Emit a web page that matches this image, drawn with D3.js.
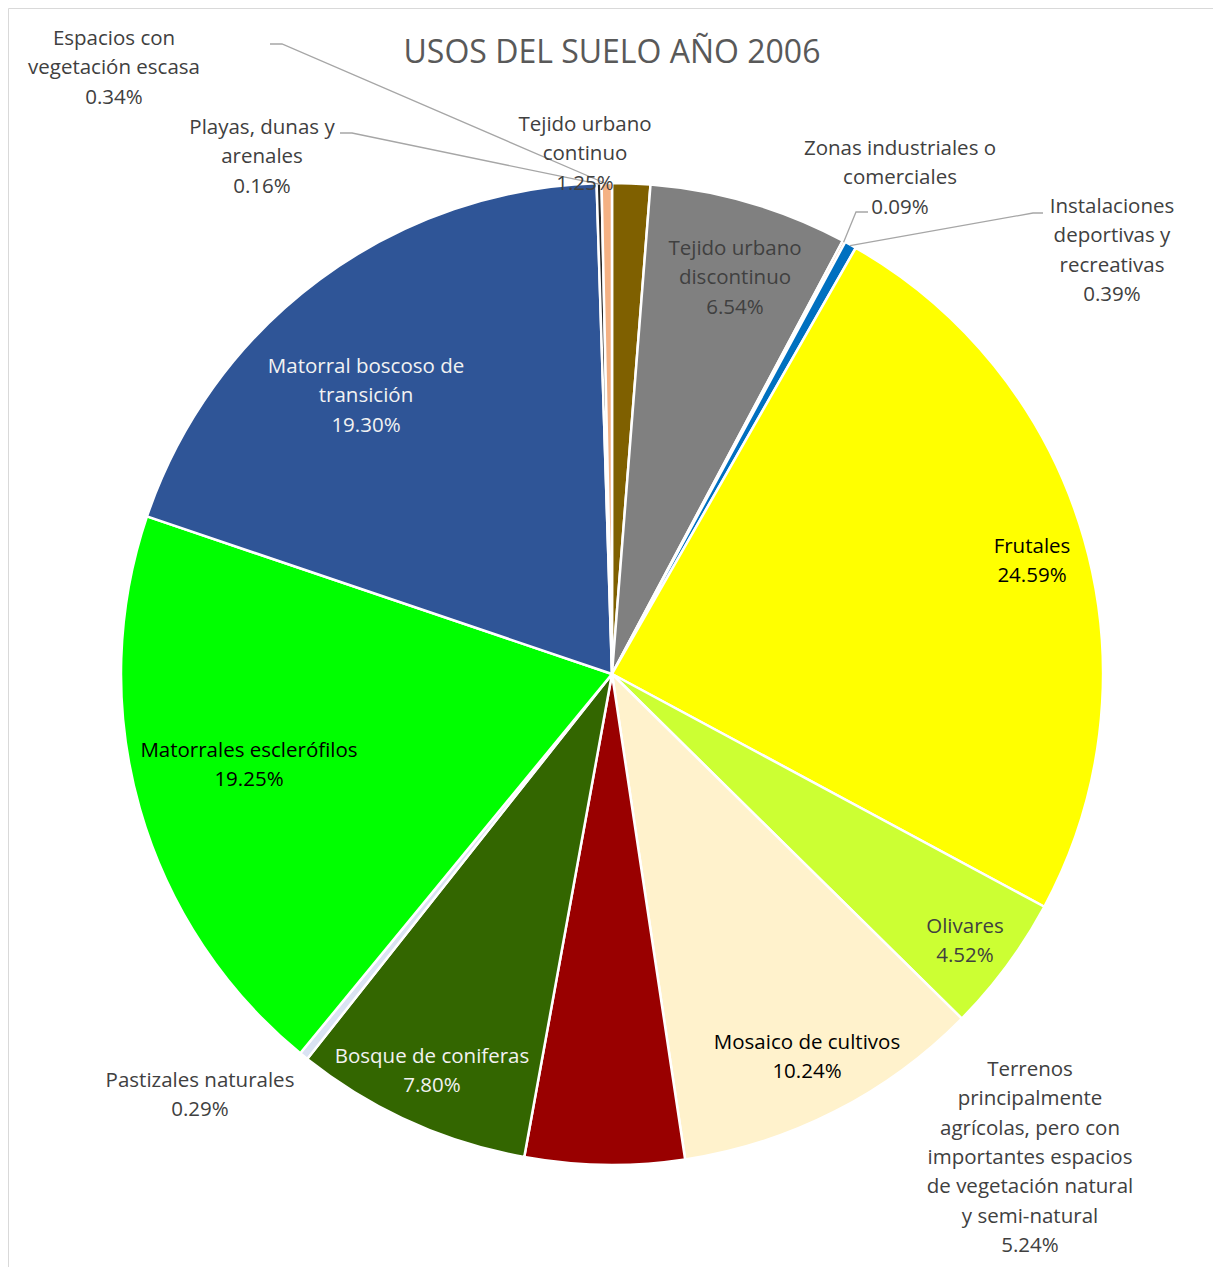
<!DOCTYPE html>
<html>
<head>
<meta charset="utf-8">
<script src="https://cdn.jsdelivr.net/npm/d3@7"></script>
<style>
  body { margin: 0; background: #fff; }
  svg text { font-family: 'Open Sans', Lato, sans-serif; }
</style>
</head>
<body>
<svg id="pie" width="1213" height="1267"></svg>
<script>
const categories = [
  'Tejido urbano continuo',
  'Tejido urbano discontinuo',
  'Zonas industriales o comerciales',
  'Instalaciones deportivas y recreativas',
  'Frutales',
  'Olivares',
  'Mosaico de cultivos',
  'Terrenos principalmente agrícolas, pero con importantes espacios de vegetación natural y semi-natural',
  'Bosque de coniferas',
  'Pastizales naturales',
  'Matorrales esclerófilos',
  'Matorral boscoso de transición',
  'Playas, dunas y arenales',
  'Espacios con vegetación escasa'
]
const values = [1.25, 6.54, 0.09, 0.39, 24.59, 4.52, 10.24, 5.24, 7.80, 0.29, 19.25, 19.30, 0.16, 0.34]
const colors = ['#7f6000', '#808080', '#c55a11', '#0070c0', '#ffff00', '#ccff33', '#fff2cc',
  '#990000', '#336600', '#dae3f3', '#00ff00', '#2f5597', '#262626', '#f4b183']

// label text lines (the percentage line is added from values)
const labelLines = [
  ['Tejido urbano', 'continuo'],
  ['Tejido urbano', 'discontinuo'],
  ['Zonas industriales o', 'comerciales'],
  ['Instalaciones', 'deportivas y', 'recreativas'],
  ['Frutales'],
  ['Olivares'],
  ['Mosaico de cultivos'],
  ['Terrenos', 'principalmente', 'agrícolas, pero con', 'importantes espacios', 'de vegetación natural', 'y semi-natural'],
  ['Bosque de coniferas'],
  ['Pastizales naturales'],
  ['Matorrales esclerófilos'],
  ['Matorral boscoso de', 'transición'],
  ['Playas, dunas y', 'arenales'],
  ['Espacios con', 'vegetación escasa']
]

// label placement: centre x, first baseline y, text colour
const labelLayout = [
  { x: 585, y: 131, fill: '#404040' },
  { x: 735, y: 255, fill: '#404040' },
  { x: 900, y: 155, fill: '#404040' },
  { x: 1112, y: 213, fill: '#404040' },
  { x: 1032, y: 553, fill: '#000000' },
  { x: 965, y: 933, fill: '#404040' },
  { x: 807, y: 1049, fill: '#000000' },
  { x: 1030, y: 1076, fill: '#404040' },
  { x: 432, y: 1063, fill: '#f2f2f2' },
  { x: 200, y: 1087, fill: '#404040' },
  { x: 249, y: 757, fill: '#000000' },
  { x: 366, y: 373, fill: '#f2f2f2' },
  { x: 262, y: 134, fill: '#404040' },
  { x: 114, y: 45, fill: '#404040' }
]

// leader lines for outside labels: [slice index, start points]
const leaders = [
  [13, [[270, 44], [282, 44]]],
  [12, [[340, 133], [352, 133]]],
  [2, [[868, 212], [856, 212]]],
  [3, [[1043, 213], [1033, 213]]]
]

const svg = d3.select('#pie')
const width = +svg.attr('width')
const height = +svg.attr('height')

// chart area border
svg.append('path')
  .attr('d', `M8.5,${height} V8.5 H${width}`)
  .attr('fill', 'none')
  .attr('stroke', '#d9d9d9')
  .attr('stroke-width', 1)

svg.append('text')
  .attr('x', 612)
  .attr('y', 63)
  .attr('text-anchor', 'middle')
  .attr('fill', '#595959')
  .style('font-size', '32px')
  .text('USOS DEL SUELO AÑO 2006')

const cx = 612
const cy = 674
const radius = 491

const data = categories.map((c, i) => ({ name: c, value: values[i], i }))

const pie = d3.pie().sort(null).value(d => d.value)
const arcs = pie(data)
const arc = d3.arc().innerRadius(0).outerRadius(radius)

const g = svg.append('g').attr('transform', `translate(${cx},${cy})`)

g.selectAll('path.slice')
  .data(arcs)
  .enter()
  .append('path')
  .attr('class', 'slice')
  .attr('d', arc)
  .attr('fill', d => colors[d.data.i])
  .attr('stroke', '#fff')
  .attr('stroke-width', 2.5)
  .attr('stroke-linejoin', 'round')

// leader lines: from label end to the outer edge of the slice
leaders.forEach(([i, pts]) => {
  const a = arcs[i]
  const mid = (a.startAngle + a.endAngle) / 2
  const ex = cx + Math.sin(mid) * (radius - 1)
  const ey = cy - Math.cos(mid) * (radius - 1)
  svg.append('polyline')
    .attr('points', [...pts, [ex, ey]].map(p => p.join(',')).join(' '))
    .attr('fill', 'none')
    .attr('stroke', '#a6a6a6')
    .attr('stroke-width', 1.3)
})

const fmt = d3.format('.2f')
const lineH = 29.3

data.forEach((d, i) => {
  const lay = labelLayout[i]
  const lines = [...labelLines[i], fmt(d.value) + '%']
  const t = svg.append('text')
    .attr('text-anchor', 'middle')
    .attr('fill', lay.fill)
    .style('font-size', '20.5px')
  lines.forEach((l, k) => {
    t.append('tspan')
      .attr('x', lay.x)
      .attr('y', lay.y + k * lineH)
      .text(l)
  })
})
</script>
</body>
</html>
